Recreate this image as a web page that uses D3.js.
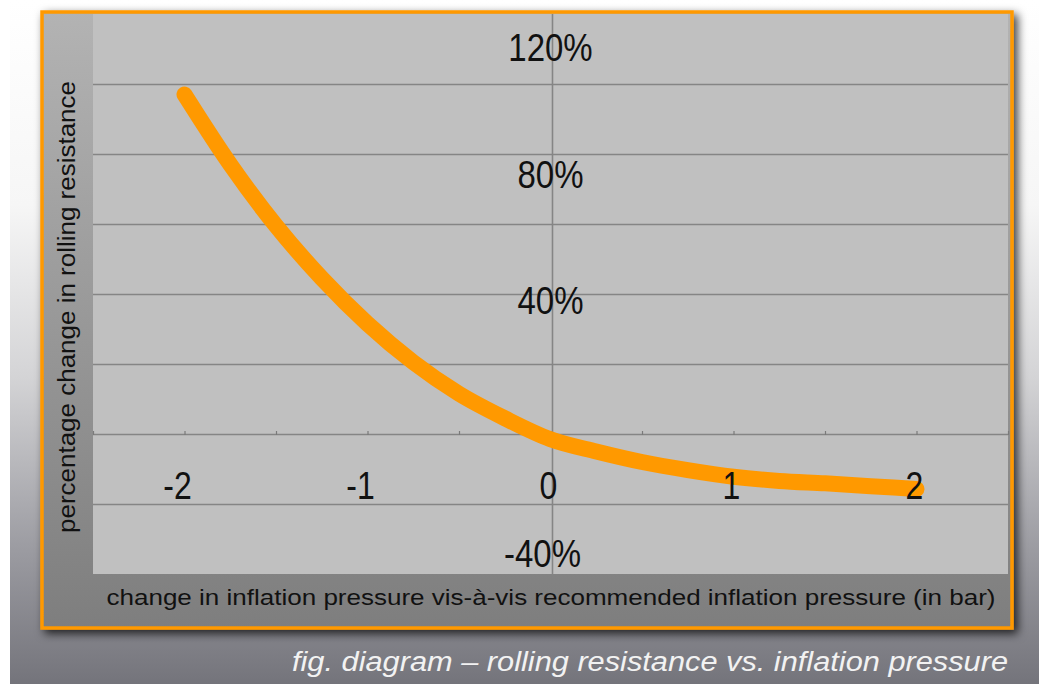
<!DOCTYPE html>
<html>
<head>
<meta charset="utf-8">
<script src="https://cdn.jsdelivr.net/npm/d3@7"></script>
<style>
    body { margin: 0; background: #fff; }
    text { font-family: "Liberation Sans", Arial, sans-serif; }
</style>
</head>
<body>
<div id="chart"></div>
<script>
// pressure change (bar) and rolling resistance change (%)
const pressure = [-2, -1.75, -1.5, -1.25, -1, -0.75, -0.5, -0.25, 0, 0.25, 0.5, 0.75, 1, 1.25, 1.5, 1.75, 2];
const resistance = [97, 77, 59.5, 44.5, 31.5, 20.5, 11.5, 4.5, -1.5, -5, -8, -10.3, -12.2, -13.4, -14.1, -14.9, -15.7];

const xTickLabels = [-2, -1, 0, 1, 2];
const yTickLabels = [120, 80, 40, -40];
const gridValues = [-20, 0, 20, 40, 60, 80, 100];
const minorTicks = [-2.5, -2, -1.5, -1, -0.5, 0, 0.5, 1, 1.5, 2, 2.5];

const w = 1039;
const h = 684;

const plot = { left: 93, right: 1008, top: 14, bottom: 574 };

const svg = d3
    .select("#chart")
    .append("svg")
    .attr("width", w)
    .attr("height", h);

const defs = svg.append("defs");

const bg = defs.append("linearGradient").attr("id", "bg").attr("x1", 0).attr("y1", 0).attr("x2", 0).attr("y2", 1);
[["0", "#ffffff"], ["0.3", "#f6f6f6"], ["0.55", "#d4d4d6"], ["0.8", "#9c9ca2"], ["1", "#74747b"]].forEach((s) =>
    bg.append("stop").attr("offset", s[0]).attr("stop-color", s[1])
);

const frameFill = defs.append("linearGradient").attr("id", "frameFill").attr("x1", 0).attr("y1", 0).attr("x2", 0).attr("y2", 1);
frameFill.append("stop").attr("offset", "0").attr("stop-color", "#b3b3b3");
frameFill.append("stop").attr("offset", "1").attr("stop-color", "#7e7e7e");

const shadow = defs.append("filter").attr("id", "shadow").attr("x", "-5%").attr("y", "-5%").attr("width", "112%").attr("height", "115%");
shadow.append("feDropShadow")
    .attr("dx", 4)
    .attr("dy", 4)
    .attr("stdDeviation", 5)
    .attr("flood-color", "#000")
    .attr("flood-opacity", 0.75);

// page background
svg.append("rect").attr("x", 10).attr("y", 0).attr("width", w - 10).attr("height", h).attr("fill", "url(#bg)");

// orange frame
svg.append("rect")
    .attr("x", 42)
    .attr("y", 12)
    .attr("width", 970)
    .attr("height", 616)
    .attr("fill", "url(#frameFill)")
    .attr("stroke", "#ff9900")
    .attr("stroke-width", 3.5)
    .attr("filter", "url(#shadow)");

const xScale = d3.scaleLinear().domain([-2.5, 2.5]).range([plot.left, plot.right]);
const yScale = d3.scaleLinear().domain([-40, 120]).range([plot.bottom, plot.top]);
// the value labels sit a little apart from their gridlines in the original
const labelScale = d3.scaleLinear().domain([-40, 120]).range([553, 47]);

svg.append("rect")
    .attr("x", plot.left)
    .attr("y", plot.top)
    .attr("width", plot.right - plot.left)
    .attr("height", plot.bottom - plot.top)
    .attr("fill", "#c0c0c0");

// horizontal gridlines
const grid = d3.axisLeft(yScale)
    .tickValues(gridValues)
    .tickSize(-(plot.right - plot.left))
    .tickFormat("");

svg.append("g")
    .attr("transform", `translate(${plot.left},0)`)
    .call(grid)
    .call((g) => g.select(".domain").remove())
    .call((g) => g.selectAll("line").attr("stroke", "#858585").attr("stroke-width", 1.6));

// x axis tick marks on the zero line
const xAxis = d3.axisTop(xScale).tickValues(minorTicks).tickSize(4).tickFormat("");
svg.append("g")
    .attr("transform", `translate(0,${yScale(0) + 1})`)
    .call(xAxis)
    .call((g) => g.select(".domain").remove())
    .call((g) => g.selectAll("line").attr("stroke", "#7a7a7a").attr("stroke-width", 1.2));

// vertical axis at zero
svg.append("line")
    .attr("x1", xScale(0) + 2)
    .attr("x2", xScale(0) + 2)
    .attr("y1", plot.top)
    .attr("y2", plot.bottom)
    .attr("stroke", "#858585")
    .attr("stroke-width", 1.6);

// curve
const line = d3.line()
    .x((d, i) => xScale(pressure[i]))
    .y((d) => yScale(d))
    .curve(d3.curveMonotoneX);

svg.append("path")
    .datum(resistance)
    .attr("d", line)
    .attr("fill", "none")
    .attr("stroke", "#ff9900")
    .attr("stroke-width", 16)
    .attr("stroke-linecap", "round")
    .attr("stroke-linejoin", "round");

// y value labels
svg.selectAll(".ylabel")
    .data(yTickLabels)
    .enter()
    .append("text")
    .attr("class", "ylabel")
    .attr("transform", (d) => `translate(${xScale(0) + (d < 0 ? -8 : 0)},${labelScale(d)}) scale(1,1.2)`)
    .attr("dy", "0.36em")
    .attr("text-anchor", "middle")
    .attr("font-size", 33)
    .attr("fill", "#111")
    .text((d) => d + "%");

// x value labels
svg.selectAll(".xlabel")
    .data(xTickLabels)
    .enter()
    .append("text")
    .attr("class", "xlabel")
    .attr("transform", (d) => `translate(${xScale(d) - 2 + (d < 0 ? -5 : 0)},${yScale(0) + 51}) scale(1,1.2)`)
    .attr("dy", "0.36em")
    .attr("text-anchor", "middle")
    .attr("font-size", 32)
    .attr("fill", "#111")
    .text((d) => d);

// axis titles
svg.append("text")
    .attr("transform", "translate(75,307) rotate(-90)")
    .attr("text-anchor", "middle")
    .attr("font-size", 23)
    .attr("textLength", 452)
    .attr("lengthAdjust", "spacingAndGlyphs")
    .attr("fill", "#111")
    .text("percentage change in rolling resistance");

svg.append("text")
    .attr("x", 551)
    .attr("y", 605)
    .attr("text-anchor", "middle")
    .attr("font-size", 22)
    .attr("textLength", 889)
    .attr("lengthAdjust", "spacingAndGlyphs")
    .attr("fill", "#111")
    .text("change in inflation pressure vis-à-vis recommended inflation pressure (in bar)");

// caption
svg.append("text")
    .attr("x", 1008)
    .attr("y", 671)
    .attr("text-anchor", "end")
    .attr("font-size", 27)
    .attr("font-style", "italic")
    .attr("textLength", 716)
    .attr("lengthAdjust", "spacingAndGlyphs")
    .attr("fill", "#f2f2f2")
    .text("fig. diagram – rolling resistance vs. inflation pressure");
</script>
</body>
</html>
